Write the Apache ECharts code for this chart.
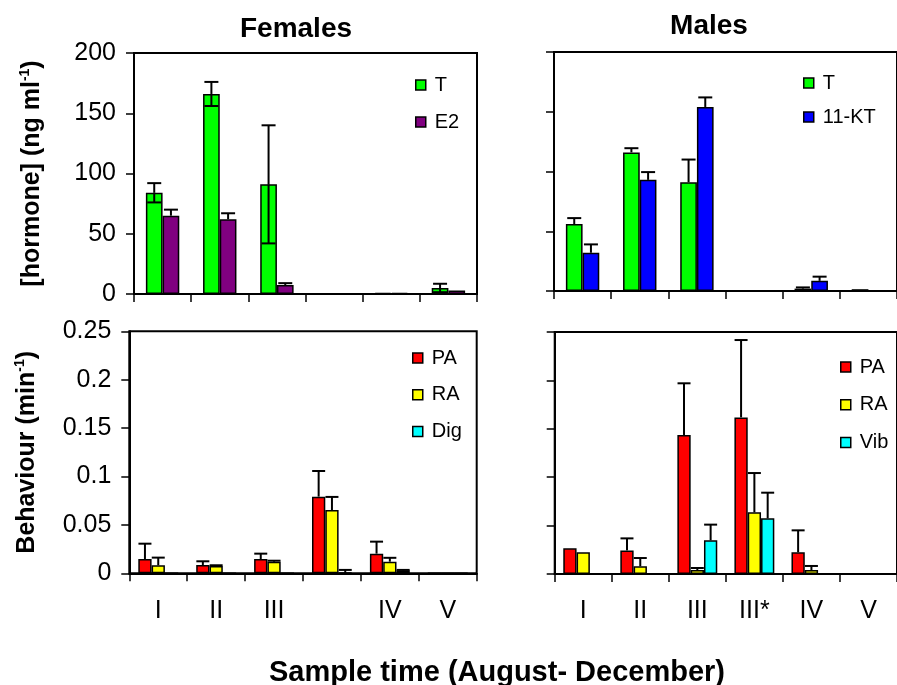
<!DOCTYPE html>
<html><head><meta charset="utf-8">
<script src="https://cdn.jsdelivr.net/npm/echarts@6.0.0/dist/echarts.min.js"></script>
<style>html,body{margin:0;padding:0;background:#fff}#c{width:897px;height:685px}</style>
</head><body><div id="c"></div>
<script>
// ---------- data ----------
const catFemale = ['I', 'II', 'III', '', 'IV', 'V'];
const catMale = ['I', 'II', 'III', 'III*', 'IV', 'V'];
const hormoneTicks = [0, 50, 100, 150, 200];
const behaviourTicks = [0, 0.05, 0.1, 0.15, 0.2, 0.25];

// Females hormones (ng/ml)
const fT = [84, 166, 91, 0, 1, 5];
const fTerr = [8, 10, 49, 0, 0, 3.5];
const fE2 = [65, 62, 7.5, 0, 1, 3];
const fE2err = [5, 5, 1.5, 0, 0, 0];
// Males hormones
const mT = [56, 116, 91, 0, 2, 1.5];
const mTerr = [5, 3.5, 19, 0, 1, 0];
const mKT = [32, 93, 154, 0, 8.5, 0];
const mKTerr = [7, 6.5, 8, 0, 3.5, 0];
// Females behaviour (/min)
const fPA = [0.0148, 0.0086, 0.0148, 0.0792, 0.0203, 0];
const fPAerr = [0.0158, 0.0038, 0.0055, 0.0265, 0.0124, 0];
const fRA = [0.0083, 0.0076, 0.012, 0.0654, 0.012, 0];
const fRAerr = [0.0079, 0.0007, 0.001, 0.0135, 0.004, 0];
const fDig = [0, 0, 0, 0.0005, 0.003, 0];
const fDigErr = [0, 0, 0, 0.003, 0.0005, 0];
// Males behaviour
const mPA = [0.0265, 0.0244, 0.1436, 0.1618, 0.0224, 0];
const mPAerr = [0, 0.0124, 0.0534, 0.0799, 0.0227, 0];
const mRA = [0.0224, 0.0079, 0.0041, 0.0637, 0.0041, 0];
const mRAerr = [0, 0.0086, 0.0021, 0.0406, 0.0042, 0];
const mVib = [0, 0, 0.0348, 0.0575, 0, 0];
const mVibErr = [0, 0, 0.0162, 0.0265, 0, 0];

// ---------- styling ----------
const FONT = 'Liberation Sans, Arial, Helvetica, sans-serif';
const GREEN = '#00ff00', PURPLE = '#800080', BLUE = '#0000ff',
      RED = '#ff0000', YELLOW = '#ffff00', CYAN = '#00ffff';
const TOPW = 16.7, BOTW = 13.3;

const chart = echarts.init(document.getElementById('c'), null, {renderer: 'canvas'});

const grids = [
  {left: 134, top: 53, width: 343, height: 241},
  {left: 554, top: 52, width: 345, height: 239},
  {left: 129.3, top: 331.3, width: 347.4, height: 242},
  {left: 554.7, top: 332, width: 349, height: 242}
].map(g => Object.assign({show: true, borderColor: '#000', borderWidth: 2, backgroundColor: 'transparent', containLabel: false}, g));

function xAx(i, cats, showLabels) {
  return {
    type: 'category', gridIndex: i, data: cats, boundaryGap: true,
    axisLine: {show: true, onZero: true, lineStyle: {color: '#000', width: 2}},
    axisTick: {show: true, interval: 0, alignWithLabel: false, length: 8, inside: false, lineStyle: {color: '#000', width: 1.5}},
    axisLabel: {show: showLabels, interval: 0, margin: 25, color: '#000', fontSize: 25, fontFamily: FONT},
    splitLine: {show: false}
  };
}
function yAx(i, ticks, showLabels, name) {
  const o = {
    type: 'value', gridIndex: i, min: ticks[0], max: ticks[ticks.length - 1], interval: ticks[1] - ticks[0],
    axisLine: {show: true, lineStyle: {color: '#000', width: 2}},
    axisTick: {show: true, length: 8, lineStyle: {color: '#000', width: 1.5}},
    axisLabel: {show: showLabels, margin: 18, color: '#000', fontSize: 25, fontFamily: FONT},
    splitLine: {show: false}
  };
  if (name) {
    o.name = name;
    o.nameLocation = 'middle';
    o.nameRotate = 90;
    o.nameGap = 88;
    o.nameTextStyle = {
      color: '#000', fontSize: 25, fontWeight: 'bold', fontFamily: FONT, lineHeight: 28,
      rich: {
        m: {fontSize: 25, fontWeight: 'bold', fontFamily: FONT, color: '#000', lineHeight: 28},
        sup: {fontSize: 14, fontWeight: 'bold', fontFamily: FONT, color: '#000', verticalAlign: 'top', lineHeight: 28, padding: [0, 0, 10, 0]}
      }
    };
  }
  return o;
}

function barSeries(name, data, color, gi, w) {
  return {
    type: 'bar', name: name, data: data, xAxisIndex: gi, yAxisIndex: gi,
    barWidth: w, barGap: '0%', animation: false,
    itemStyle: {color: color, borderColor: '#000', borderWidth: 1.5},
    emphasis: {disabled: true}, z: 2
  };
}
function errSeries(vals, errs, gi, offset, capHalf, both) {
  return {
    type: 'custom', xAxisIndex: gi, yAxisIndex: gi, z: 5, silent: true, animation: false,
    data: vals.map((v, i) => [i, v, errs[i]]),
    renderItem: function (params, api) {
      const i = api.value(0), v = api.value(1), e = api.value(2);
      if (!e) return null;
      const base = api.coord([i, v]);
      const top = api.coord([i, v + e]);
      const x = base[0] + offset;
      const st = {stroke: '#000', lineWidth: 2};
      const ch = [
        {type: 'line', shape: {x1: x, y1: base[1], x2: x, y2: top[1]}, style: st},
        {type: 'line', shape: {x1: x - capHalf, y1: top[1], x2: x + capHalf, y2: top[1]}, style: st}
      ];
      if (both) {
        const lo = api.coord([i, Math.max(0, v - e)]);
        ch.push({type: 'line', shape: {x1: x, y1: base[1], x2: x, y2: lo[1]}, style: st});
        ch.push({type: 'line', shape: {x1: x - capHalf, y1: lo[1], x2: x + capHalf, y2: lo[1]}, style: st});
      }
      return {type: 'group', children: ch};
    }
  };
}

function legendAt(names, left, top, gap) {
  return {
    data: names, left: left, top: top, orient: 'vertical', padding: 0, itemGap: gap,
    itemWidth: 10, itemHeight: 10, icon: 'rect', selectedMode: false,
    itemStyle: {borderColor: '#000', borderWidth: 1.5},
    textStyle: {color: '#000', fontSize: 20, fontFamily: FONT, lineHeight: 20, padding: [0, 0, 0, 4]}
  };
}

const option = {
  animation: false,
  backgroundColor: '#fff',
  grid: grids,
  xAxis: [xAx(0, catFemale, false), xAx(1, catMale, false), xAx(2, catFemale, true), xAx(3, catMale, true)],
  yAxis: [
    yAx(0, hormoneTicks, true, '{m|[hormone] (ng ml}{sup|-1}{m|)}'),
    yAx(1, hormoneTicks, false),
    yAx(2, behaviourTicks, true, '{m|Behaviour (min}{sup|-1}{m|)}'),
    yAx(3, behaviourTicks, false)
  ],
  legend: [
    legendAt(['T', 'E2'], 415, 75, 17),
    legendAt(['T', '11-KT'], 803, 73, 14),
    legendAt(['PA', 'RA', 'Dig'], 412, 348, 16.7),
    legendAt(['PA', 'RA', 'Vib'], 840, 357, 17.7)
  ],
  series: [
    barSeries('T', fT, GREEN, 0, TOPW),
    barSeries('E2', fE2, PURPLE, 0, TOPW),
    barSeries('T', mT, GREEN, 1, TOPW),
    barSeries('11-KT', mKT, BLUE, 1, TOPW),
    barSeries('PA', fPA, RED, 2, BOTW),
    barSeries('RA', fRA, YELLOW, 2, BOTW),
    barSeries('Dig', fDig, CYAN, 2, BOTW),
    barSeries('PA', mPA, RED, 3, BOTW),
    barSeries('RA', mRA, YELLOW, 3, BOTW),
    barSeries('Vib', mVib, CYAN, 3, BOTW),
    errSeries(fT, fTerr, 0, -TOPW / 2, 7, true),
    errSeries(fE2, fE2err, 0, TOPW / 2, 7, false),
    errSeries(mT, mTerr, 1, -TOPW / 2, 7, false),
    errSeries(mKT, mKTerr, 1, TOPW / 2, 7, false),
    errSeries(fPA, fPAerr, 2, -BOTW, 6.5, false),
    errSeries(fRA, fRAerr, 2, 0, 6.5, false),
    errSeries(fDig, fDigErr, 2, BOTW, 6.5, false),
    errSeries(mPA, mPAerr, 3, -BOTW, 6.5, false),
    errSeries(mRA, mRAerr, 3, 0, 6.5, false),
    errSeries(mVib, mVibErr, 3, BOTW, 6.5, false)
  ],
  graphic: [
    {type: 'text', x: 296, y: 29, style: {text: 'Females', font: 'bold 28px ' + FONT, fill: '#000', textAlign: 'center', textVerticalAlign: 'middle'}},
    {type: 'text', x: 709, y: 26, style: {text: 'Males', font: 'bold 28px ' + FONT, fill: '#000', textAlign: 'center', textVerticalAlign: 'middle'}},
    {type: 'text', x: 497, y: 673, style: {text: 'Sample time (August- December)', font: 'bold 29px ' + FONT, fill: '#000', textAlign: 'center', textVerticalAlign: 'middle'}}
  ]
};
chart.setOption(option);
</script>
</body></html>
